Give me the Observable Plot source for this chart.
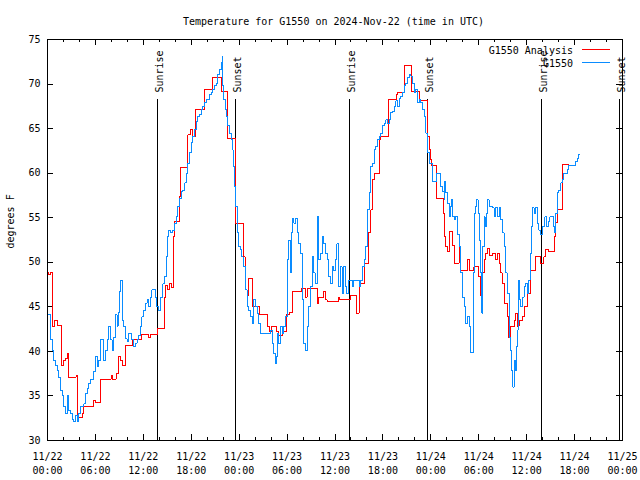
<!DOCTYPE html>
<html><head><meta charset="utf-8">
<script src="https://cdn.jsdelivr.net/npm/d3@7"></script>
<script src="https://cdn.jsdelivr.net/npm/@observablehq/plot@0.6"></script>
<style>body{margin:0;background:#fff}</style>
</head><body><div id="chart"></div>
<script>
const titleText = "Temperature for G1550 on 2024-Nov-22 (time in UTC)";
const yLabel = "degrees F";
const seriesNames = ["G1550 Analysis", "G1550"];
const seriesColors = ["#ff0000", "#0a8cff"];
const dayLabels = ["11/22", "11/23", "11/24", "11/25"];
const majorTicks = [0, 6, 12, 18, 24, 30, 36, 42, 48, 54, 60, 66, 72];
const minorTicks = [0,2,4,6,8,10,12,14,16,18,20,22,24,26,28,30,32,34,36,38,40,42,44,46,48,50,52,54,56,58,60,62,64,66,68,70,72];
const yTicks = [30, 35, 40, 45, 50, 55, 60, 65, 70, 75];
const sunHours = [13.82, 23.6, 37.83, 47.6, 61.85, 71.6];
const sunLabels = ["Sunrise", "Sunset", "Sunrise", "Sunset", "Sunrise", "Sunset"];

// G1550 Analysis (hours since 11/22 00:00 UTC, °F)
const analysis = [[0,48.8],[0.17,48.6],[0.33,48.9],[0.67,42.8],[0.92,43.5],[1.21,42.9],[1.71,38.4],[2.04,39.0],[2.25,39.2],[2.46,39.8],[2.67,37.1],[3.58,37.3],[3.79,32.6],[4.33,33.0],[4.54,33.8],[5.71,34.5],[6.0,34.3],[6.63,36.9],[7.96,37.3],[8.08,36.9],[8.58,37.5],[8.92,39.4],[9.13,39.0],[9.33,38.4],[9.75,40.7],[10.67,41.3],[11.71,41.9],[12.67,41.6],[12.88,41.9],[13.83,42.6],[14.67,46.1],[14.83,47.4],[15.0,46.9],[15.25,47.6],[15.5,47.2],[15.79,52.9],[15.92,54.6],[16.54,57.4],[16.67,60.6],[17.58,64.3],[17.9,64.9],[18.2,64.1],[18.54,67.2],[19.67,69.4],[20.71,70.7],[21.75,69.2],[22.5,63.9],[23.5,54.4],[24.6,50.6],[24.75,46.9],[25.0,46.3],[25.21,48.2],[25.71,45.0],[26.58,44.1],[27.58,42.8],[27.8,42.2],[28.1,42.8],[28.67,42.2],[28.96,41.8],[29.38,42.2],[29.92,44.1],[30.33,44.4],[30.63,46.7],[31.75,47.1],[32.29,46.1],[32.5,47.1],[33.75,45.4],[33.96,46.1],[34.58,46.7],[34.79,45.8],[35.0,45.6],[36.46,46.1],[36.6,45.8],[37.92,46.3],[38.63,44.3],[39.04,47.6],[39.67,49.9],[40.17,53.3],[40.5,55.9],[40.71,59.3],[40.92,60.0],[41.63,63.8],[41.75,64.1],[42.67,68.3],[43.71,68.8],[43.83,69.0],[44.67,72.1],[45.58,69.2],[46.63,68.1],[47.58,64.1],[47.79,62.6],[48.0,61.5],[48.1,60.9],[48.71,57.2],[49.54,55.5],[49.67,52.9],[49.88,51.8],[50.08,51.2],[50.29,53.4],[50.71,51.9],[50.92,49.9],[51.54,51.8],[51.75,49.1],[52.58,50.3],[52.79,49.1],[53.4,49.5],[53.92,48.4],[54.17,46.3],[54.5,48.8],[54.67,50.3],[54.88,51.0],[55.08,51.6],[55.29,50.8],[55.71,51.0],[56.13,50.3],[56.33,51.0],[56.58,49.9],[56.75,48.8],[56.96,47.6],[57.17,45.4],[57.58,43.9],[57.67,41.6],[57.92,42.8],[58.42,43.5],[58.63,44.3],[58.83,42.8],[59.04,43.5],[59.46,43.9],[59.67,45.0],[60.08,46.5],[60.5,49.1],[61.13,50.6],[61.75,49.9],[62.17,50.6],[62.38,51.4],[62.79,51.2],[63.54,52.9],[63.63,54.5],[63.92,55.9],[64.54,61.0],[65.29,61.0]];

// G1550 observations (hours since 11/22 00:00 UTC, °F)
const observed = [[0,44.1],[0.38,41.3],[0.58,40.1],[0.79,39.0],[1.0,38.4],[1.21,37.9],[1.42,37.1],[1.63,35.6],[1.83,35.1],[2.04,33.8],[2.25,33.0],[2.46,35.1],[2.67,33.4],[2.88,33.0],[3.08,32.4],[3.29,32.1],[3.5,32.8],[3.71,32.1],[3.92,33.0],[4.13,33.8],[4.54,34.1],[4.75,35.3],[4.96,35.8],[5.17,36.4],[5.38,36.9],[5.79,37.7],[6.0,39.4],[6.21,38.3],[6.42,39.0],[6.63,41.3],[7.04,39.0],[7.25,40.1],[7.46,41.3],[7.67,42.8],[7.88,41.3],[8.08,40.1],[8.29,41.6],[8.5,44.1],[8.71,42.8],[8.83,44.4],[9.0,46.7],[9.17,48.0],[9.33,43.5],[9.54,42.8],[9.75,41.4],[9.96,41.1],[10.17,42.0],[10.58,41.3],[10.79,40.5],[11.0,40.9],[11.21,41.3],[11.42,41.8],[11.63,42.8],[11.83,43.9],[12.04,44.6],[12.25,45.4],[12.46,45.8],[12.67,45.0],[12.88,46.1],[13.08,46.9],[13.5,46.1],[13.71,45.0],[13.92,44.6],[14.13,46.1],[14.46,47.6],[14.67,48.4],[14.88,50.6],[15.0,52.9],[15.17,53.6],[15.42,53.3],[15.71,53.6],[15.92,54.4],[16.13,55.1],[16.33,56.3],[16.54,57.2],[16.75,57.9],[16.96,58.1],[17.17,58.9],[17.38,60.0],[17.58,61.1],[17.79,62.3],[18.0,63.4],[18.21,64.1],[18.42,64.9],[18.63,65.8],[18.83,66.4],[19.04,66.6],[19.25,67.1],[19.46,67.5],[19.67,67.9],[19.88,68.3],[20.29,68.8],[20.5,69.0],[20.71,69.4],[20.92,69.8],[21.13,70.1],[21.33,71.1],[21.54,71.6],[21.75,72.4],[21.88,73.1],[21.96,69.8],[22.08,68.3],[22.25,67.1],[22.42,66.4],[22.58,65.3],[22.79,64.5],[23.0,63.8],[23.13,62.6],[23.25,60.8],[23.42,58.5],[23.58,56.3],[23.75,53.3],[23.92,51.8],[24.17,51.4],[24.33,50.6],[24.5,49.9],[24.58,49.5],[24.79,46.9],[25.0,45.0],[25.21,44.6],[25.42,43.9],[25.63,43.1],[25.83,45.8],[26.04,45.0],[26.25,44.3],[26.46,43.1],[26.67,42.0],[27.92,42.4],[28.13,40.9],[28.33,39.8],[28.54,38.6],[28.67,39.4],[28.83,42.0],[28.96,40.9],[29.17,42.8],[29.38,42.0],[29.58,42.8],[29.79,43.9],[30.0,50.3],[30.21,52.5],[30.42,48.8],[30.54,53.3],[30.67,54.9],[30.83,54.4],[31.04,54.9],[31.25,53.3],[31.46,52.1],[31.67,51.0],[31.88,45.8],[32.08,40.9],[32.29,40.1],[32.5,42.8],[32.71,45.0],[32.92,47.3],[33.13,50.6],[33.33,48.8],[33.54,47.6],[33.75,55.1],[33.96,50.3],[34.17,51.0],[34.38,52.9],[34.58,52.1],[34.79,51.0],[35.0,50.3],[35.21,48.4],[35.42,47.6],[35.63,49.5],[35.83,49.1],[36.04,50.3],[36.25,52.1],[36.46,47.3],[36.67,49.5],[36.88,46.5],[37.08,49.5],[37.29,47.3],[37.5,46.5],[37.71,48.0],[38.13,47.3],[38.33,48.0],[38.83,48.0],[39.04,47.3],[39.25,48.0],[39.46,49.5],[39.67,50.3],[39.88,51.8],[40.08,55.9],[40.29,57.8],[40.5,60.8],[40.71,61.1],[40.92,62.6],[41.13,63.0],[41.33,63.8],[41.54,64.1],[41.75,64.5],[41.96,65.3],[42.17,65.6],[42.38,66.0],[42.58,65.6],[42.79,66.0],[43.0,66.8],[43.21,66.9],[43.42,67.5],[43.63,68.1],[43.83,67.5],[44.04,68.4],[44.25,68.6],[44.46,69.0],[44.67,69.8],[44.88,70.1],[45.08,70.7],[45.29,71.1],[45.5,70.9],[45.71,70.1],[45.92,69.0],[46.13,69.4],[46.33,67.9],[46.54,68.3],[46.75,67.9],[46.96,67.1],[47.17,66.4],[47.38,64.5],[47.58,62.3],[47.79,61.1],[48.21,59.1],[48.75,60.0],[49.25,58.5],[49.46,57.9],[49.67,57.0],[49.75,59.1],[49.88,57.8],[50.08,56.6],[50.29,55.1],[50.5,56.3],[50.58,57.0],[50.71,55.1],[50.92,54.8],[51.13,55.1],[51.33,53.1],[51.54,51.8],[51.75,48.8],[51.96,46.1],[52.17,45.0],[52.38,43.1],[52.58,43.9],[52.79,42.8],[53.0,39.9],[53.33,48.8],[53.5,55.5],[53.63,56.3],[53.75,57.0],[53.92,55.5],[54.04,52.5],[54.25,48.8],[54.38,44.3],[54.5,51.8],[54.67,55.1],[54.79,54.0],[54.92,55.5],[55.08,57.0],[55.29,56.3],[55.71,56.1],[55.92,55.1],[56.13,56.1],[56.33,55.1],[56.54,56.1],[56.75,54.8],[56.96,53.3],[57.17,51.8],[57.38,48.8],[57.58,46.5],[57.79,41.6],[57.92,40.1],[58.08,37.9],[58.25,36.0],[58.42,39.0],[58.54,37.9],[58.71,40.5],[58.83,42.4],[58.96,48.0],[59.08,45.8],[59.25,45.0],[59.46,46.1],[59.67,47.3],[59.88,47.6],[60.08,46.5],[60.29,48.0],[60.42,51.0],[60.58,54.0],[60.71,56.1],[60.92,55.5],[61.13,56.1],[61.33,54.4],[61.54,53.6],[61.75,53.1],[61.96,54.0],[62.29,55.1],[62.5,54.0],[62.71,54.6],[62.92,55.1],[63.33,54.0],[63.5,53.3],[63.63,55.5],[63.83,57.8],[64.04,58.1],[64.25,58.9],[64.46,59.3],[64.67,60.0],[65.08,60.4],[65.29,60.9],[66.13,61.3],[66.33,61.7],[66.54,62.1],[66.67,62.1]];

const W = 640, H = 480, mL = 47, mR = 18, mT = 39, mB = 40;
const plotW = W - mL - mR, plotH = H - mT - mB;
const sunEvents = sunHours.map((h, i) => ({h, label: sunLabels[i]}));
const fmtX = h => dayLabels[Math.floor(h / 24)] + "\n" + String(h % 24).padStart(2, "0") + ":00";

function legendMark(index, scales, values, dims) {
  const right = dims.width - dims.marginRight;
  const g = d3.create("svg:g");
  seriesNames.forEach((name, i) => {
    g.append("line")
      .attr("x1", right - 40).attr("x2", right - 12)
      .attr("y1", dims.marginTop + 10.5 + 13 * i).attr("y2", dims.marginTop + 10.5 + 13 * i)
      .attr("stroke", seriesColors[i]).attr("stroke-width", 1)
      .attr("shape-rendering", "crispEdges");
    g.append("text")
      .attr("x", right - 49).attr("y", dims.marginTop + 15 + 13 * i)
      .attr("text-anchor", "end").attr("fill", "#000")
      .text(name);
  });
  return g.node();
}

const crisp = {shapeRendering: "crispEdges"};
const chart = Plot.plot({
  width: W, height: H,
  marginLeft: mL, marginRight: mR, marginTop: mT, marginBottom: mB,
  style: {fontFamily: "'DejaVu Sans Mono', monospace", fontSize: "10px", background: "#fff", color: "#000", overflow: "visible"},
  x: {domain: [0, 72]},
  y: {domain: [30, 75]},
  marks: [
    Plot.ruleX(minorTicks, {x: d => d, insetTop: plotH - 3, stroke: "#000", ...crisp}),
    Plot.ruleX(minorTicks, {x: d => d, insetBottom: plotH - 3, stroke: "#000", ...crisp}),
    Plot.ruleX(majorTicks, {x: d => d, insetTop: plotH - 6, stroke: "#000", ...crisp}),
    Plot.ruleX(majorTicks, {x: d => d, insetBottom: plotH - 6, stroke: "#000", ...crisp}),
    Plot.ruleY(yTicks, {y: d => d, insetRight: plotW - 6, stroke: "#000", ...crisp}),
    Plot.ruleY(yTicks, {y: d => d, insetLeft: plotW - 6, stroke: "#000", ...crisp}),
    Plot.axisX({ticks: majorTicks, tickSize: 0, tickPadding: 10, tickFormat: fmtX, lineHeight: 1.4, label: null}),
    Plot.axisY({ticks: yTicks, tickSize: 0, tickPadding: 7, label: null}),
    Plot.ruleX(sunEvents, {x: "h", insetTop: 60, stroke: "#000", ...crisp}),
    Plot.text(sunEvents, {x: "h", text: "label", frameAnchor: "top", dy: 53, dx: 2, rotate: -90, textAnchor: "start", lineAnchor: "middle", fill: "#000"}),
    Plot.line(analysis, {x: d => d[0], y: d => d[1], curve: "step-after", stroke: seriesColors[0], strokeWidth: 1, ...crisp}),
    Plot.line(observed, {x: d => d[0], y: d => d[1], curve: "step-after", stroke: seriesColors[1], strokeWidth: 1, ...crisp}),
    Plot.frame({stroke: "#000", ...crisp}),
    Plot.text([titleText], {text: d => d, frameAnchor: "top", dy: -18, dx: -1.5, lineAnchor: "middle", fill: "#000"}),
    Plot.text([yLabel], {text: d => d, frameAnchor: "left", dx: -37, dy: 8.5, rotate: -90, lineAnchor: "middle", fill: "#000"}),
    legendMark
  ]
});
document.getElementById("chart").appendChild(chart);
</script>
</body></html>
